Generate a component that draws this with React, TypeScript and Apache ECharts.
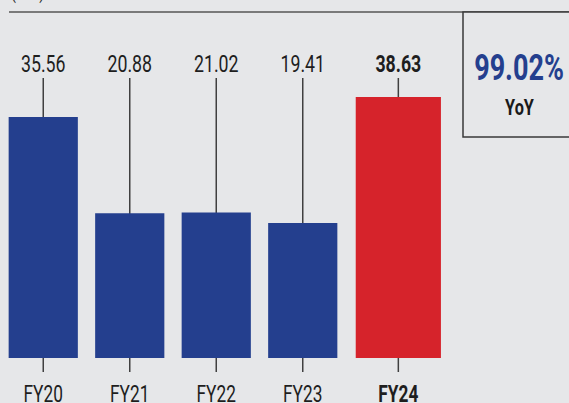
import React, { useEffect, useRef } from "react";
import * as echarts from "echarts";

const categories = ["FY20", "FY21", "FY22", "FY23", "FY24"];
const values = [35.56, 20.88, 21.02, 19.41, 38.63];
const highlightIndex = 4;
const yoyText = "99.02%";
const yoyLabel = "YoY";
const unitText = "(₹ cr)";

const BG = "#e6e7e9";
const BLUE = "#243f8e";
const RED = "#d6232b";
const FONT = "Roboto, 'Liberation Sans', sans-serif";

export default function App() {
  const ref = useRef<HTMLDivElement>(null);
  useEffect(() => {
    document.body.style.margin = "0";
    const chart = echarts.init(ref.current!, null, { renderer: "svg" });
    const option: any = {
      animation: false,
      backgroundColor: BG,
      grid: { left: 0, top: 88, width: 432.5, bottom: 45 },
      xAxis: {
        type: "category",
        data: categories,
        show: false,
      },
      yAxis: { type: "value", min: -1.2, max: 40, show: false },
      graphic: [
        {
          type: "text",
          x: 11,
          y: 2,
          scaleX: 0.8,
          style: { text: unitText, font: `18px ${FONT}`, fill: "#333", textVerticalAlign: "bottom" },
        },
        {
          type: "line",
          shape: { x1: 9, y1: 12, x2: 569, y2: 12 },
          style: { stroke: "#7a7a7a", lineWidth: 2 },
        },
        {
          type: "rect",
          shape: { x: 463, y: 12, width: 120, height: 125 },
          style: { fill: BG, stroke: "#3a3a3a", lineWidth: 1.5 },
        },
        {
          type: "text",
          x: 519,
          y: 86,
          scaleX: 0.75,
          style: {
            text: yoyText,
            font: `bold 36px ${FONT}`,
            fill: BLUE,
            textAlign: "center",
            textVerticalAlign: "bottom",
          },
        },
        {
          type: "text",
          x: 519.5,
          y: 119,
          scaleX: 0.74,
          style: {
            text: yoyLabel,
            font: `bold 22px ${FONT}`,
            fill: "#1a1a1a",
            textAlign: "center",
            textVerticalAlign: "bottom",
          },
        },
      ],
      series: [
        {
          type: "custom",
          clip: false,
          data: values.map((v, i) => [i, v]),
          encode: { x: 0, y: 1 },
          renderItem: (params: any, api: any) => {
            const idx = api.value(0);
            const v = api.value(1);
            const top = api.coord([idx, v]);
            const base = api.coord([idx, -1.2]);
            const gridTop = api.coord([idx, 40])[1];
            const band = api.size([1, 0])[0];
            const hl = idx === highlightIndex;
            const w = hl ? band * 0.985 : band * 0.8;
            const cx = top[0] + (hl ? band * 0.105 : 0);
            return {
              type: "group",
              children: [
                {
                  type: "line",
                  shape: { x1: cx, y1: gridTop - 10, x2: cx, y2: base[1] + 14 },
                  style: { stroke: "#404040", lineWidth: 1.5 },
                },
                {
                  type: "rect",
                  shape: { x: cx - w / 2, y: top[1], width: w, height: base[1] - top[1] },
                  style: { fill: hl ? RED : BLUE },
                },
                {
                  type: "text",
                  x: cx,
                  y: gridTop - 13,
                  scaleX: 0.74,
                  style: {
                    text: v.toFixed(2),
                    font: `${hl ? "bold " : ""}24px ${FONT}`,
                    fill: "#1e1e1e",
                    textAlign: "center",
                    textVerticalAlign: "bottom",
                  },
                },
                {
                  type: "text",
                  x: cx,
                  y: base[1] + 48,
                  scaleX: 0.72,
                  style: {
                    text: categories[idx],
                    font: `${hl ? "bold " : ""}24px ${FONT}`,
                    fill: "#1e1e1e",
                    textAlign: "center",
                    textVerticalAlign: "bottom",
                  },
                },
              ],
            };
          },
        },
      ],
    };
    chart.setOption(option);
    return () => chart.dispose();
  }, []);
  return <div ref={ref} style={{ width: 569, height: 403 }} />;
}
